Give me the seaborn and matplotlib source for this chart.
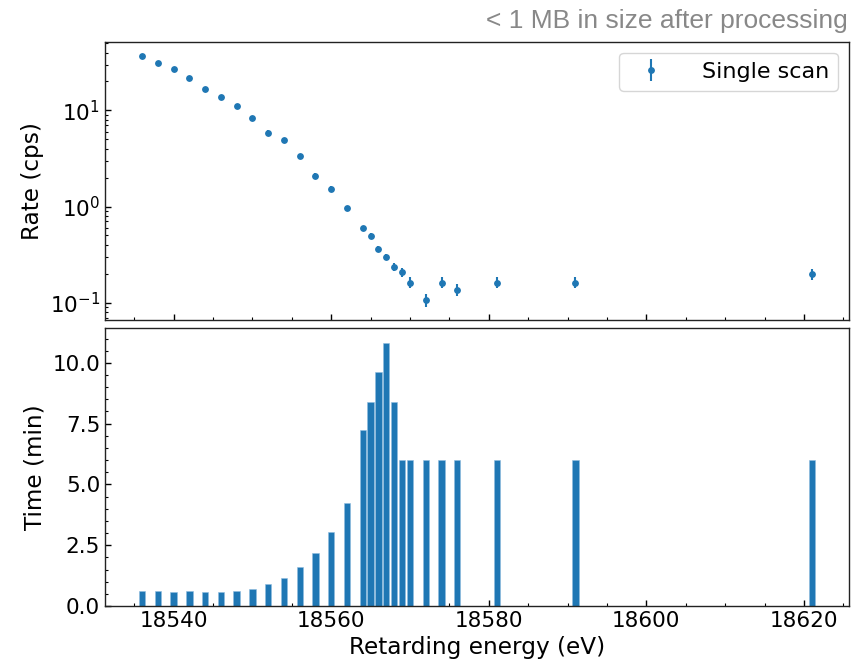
import numpy as np
import pandas as pd
import matplotlib
matplotlib.use("Agg")
import matplotlib.pyplot as plt
from matplotlib.ticker import MultipleLocator
import seaborn as sns

# ---- data ----
energy = [18536, 18538, 18540, 18542, 18544, 18546, 18548, 18550, 18552, 18554,
          18556, 18558, 18560, 18562, 18564, 18565, 18566, 18567, 18568, 18569,
          18570, 18572, 18574, 18576, 18581, 18591, 18621]
rate = [37.2, 31.1, 26.7, 21.9, 16.7, 13.7, 11.1, 8.39, 5.86, 4.95,
        3.37, 2.10, 1.53, 0.96, 0.594, 0.499, 0.362, 0.296, 0.235, 0.207,
        0.162, 0.107, 0.162, 0.136, 0.162, 0.162, 0.198]
rate_err = [1.02, 0.93, 0.88, 0.78, 0.69, 0.63, 0.56, 0.45, 0.33, 0.27,
            0.19, 0.13, 0.092, 0.061, 0.037, 0.032, 0.025, 0.021, 0.022, 0.024,
            0.021, 0.017, 0.021, 0.019, 0.021, 0.021, 0.024]
time_min = [0.6, 0.6, 0.58, 0.6, 0.58, 0.58, 0.6, 0.7, 0.9, 1.15,
            1.6, 2.17, 3.03, 4.25, 7.22, 8.4, 9.62, 10.83, 8.4, 6.0,
            6.0, 6.0, 6.0, 6.0, 6.0, 6.0, 6.0]

series_label = "Single scan"
xlabel = "Retarding energy (eV)"
ylabel_top = "Rate (cps)"
ylabel_bot = "Time (min)"
note = "< 1 MB in size after processing"

df = pd.DataFrame({"energy": energy, "rate": rate, "err": rate_err, "time": time_min})

sns.set_style("white")
plt.rcParams["font.family"] = ["DejaVu Sans"]
plt.rcParams["font.size"] = 15
plt.rcParams["text.color"] = "black"
plt.rcParams["axes.labelcolor"] = "black"
plt.rcParams["xtick.color"] = "black"
plt.rcParams["ytick.color"] = "black"

color = "#1f77b4"
fig, (ax1, ax2) = plt.subplots(2, 1, figsize=(8.54, 6.63), dpi=100, sharex=True)
fig.subplots_adjust(left=0.123, right=0.994, top=0.937, bottom=0.086, hspace=0.03)

# top: rate with error bars
ax1.errorbar(df["energy"], df["rate"], yerr=df["err"], fmt="o", color=color,
             markersize=3.9, elinewidth=1.5, label=series_label)
ax1.set_yscale("log")
ax1.set_ylabel(ylabel_top, fontsize=16.7)
leg = ax1.legend(loc="upper right", fontsize=16, frameon=True, fancybox=True,
                 handletextpad=1.3, borderpad=0.4, handlelength=2.0)
leg.get_frame().set_edgecolor("#cccccc")

# bottom: time bars
sns.barplot(data=df, x="energy", y="time", native_scale=True, color=color,
            saturation=1, ax=ax2, width=0.8, linewidth=0.4, edgecolor="#8fbde0")
ax2.set_xlabel(xlabel, fontsize=16.7)
ax2.set_ylabel(ylabel_bot, fontsize=16.7)
ax2.yaxis.set_major_locator(MultipleLocator(2.5))
ax2.yaxis.set_minor_locator(MultipleLocator(0.5))
ax2.set_ylim(0, 11.43)
ax2.set_xlim(18531.3, 18625.7)
ax2.xaxis.set_major_locator(MultipleLocator(20))
ax2.xaxis.set_minor_locator(MultipleLocator(5))

for ax in (ax1, ax2):
    ax.tick_params(which="both", bottom=True, left=True, top=False, right=False)
    ax.tick_params(which="major", direction="in", length=4.5, width=1, labelsize=15.5)
    ax.tick_params(which="minor", direction="in", length=2.5, width=0.8)
    for s in ax.spines.values():
        s.set_color("#222222")
        s.set_linewidth(1.0)
ax1.tick_params(labelbottom=False)

fig.text(0.993, 0.968, note, ha="right", va="center", fontsize=19,
         color="#888888", family=["Liberation Sans", "DejaVu Sans"])

fig.savefig("out.png", dpi=100)
